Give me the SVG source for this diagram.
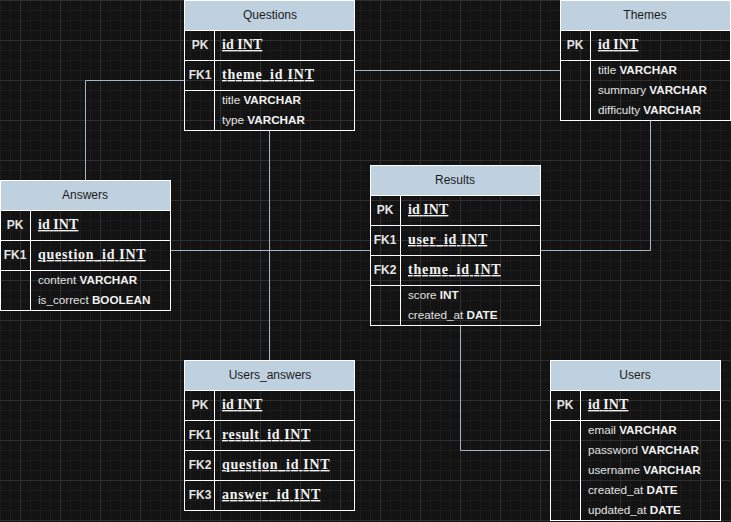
<svg xmlns="http://www.w3.org/2000/svg" width="731" height="522" viewBox="0 0 731 522">
<style>
.box{fill:none;stroke:#ffffff;stroke-width:1}
.hdr{fill:#bfd0de;stroke:#ffffff;stroke-width:1}
.sep{stroke:#ffffff;stroke-width:1;fill:none}
.conn{stroke:#a3b7ca;stroke-width:1;fill:none}
.title{font-family:"Liberation Sans",Arial,sans-serif;font-size:12px;fill:#1c1c1c;text-anchor:middle}
.key{font-family:"Liberation Sans",Arial,sans-serif;font-size:12px;font-weight:bold;fill:#e4e4e4;text-anchor:middle}
.fld{font-family:"Liberation Serif","Times New Roman",serif;font-size:14px;font-weight:bold;fill:#f2f2f2;text-decoration:underline}
.attr{font-family:"Liberation Sans",Arial,sans-serif;font-size:11.7px;fill:#e2e2e2}
.attr tspan{font-weight:bold;fill:#f2f2f2}
</style>
<defs>
<pattern id="grid" patternUnits="userSpaceOnUse" x="20" y="0" width="40" height="40">
<rect width="40" height="40" fill="#131313"/>
<rect x="10" y="0" width="1" height="40" fill="#1c1c1c"/>
<rect x="20" y="0" width="1" height="40" fill="#1c1c1c"/>
<rect x="30" y="0" width="1" height="40" fill="#1c1c1c"/>
<rect x="0" y="10" width="40" height="1" fill="#1c1c1c"/>
<rect x="0" y="20" width="40" height="1" fill="#1c1c1c"/>
<rect x="0" y="30" width="40" height="1" fill="#1c1c1c"/>
<rect x="0" y="0" width="1" height="40" fill="#2e2e2e"/>
<rect x="0" y="0" width="40" height="1" fill="#2e2e2e"/>
</pattern>
</defs>
<rect x="0" y="0" width="731" height="522" fill="url(#grid)"/>

<g id="connectors">
<path class="conn" d="M354.5 70.5 H560.5"/>
<path class="conn" d="M85.5 180.5 V80.5 H184.5"/>
<path class="conn" d="M269.5 130.5 V360.5"/>
<path class="conn" d="M170.5 250.5 H370.5"/>
<path class="conn" d="M540.5 250.5 H650.5 V120.5"/>
<path class="conn" d="M460.5 325.5 V450.5 H550.5"/>
</g>

<g id="questions">
<rect class="hdr" x="184.5" y="0.5" width="170" height="30"/>
<rect class="box" x="184.5" y="0.5" width="170" height="130"/>
<path class="sep" d="M184.5 60.5 H354.5 M184.5 90.5 H354.5 M214.5 30.5 V130.5"/>
<text class="title" x="270" y="19">Questions</text>
<text class="key" x="200" y="49">PK</text>
<text class="fld" x="222" y="49" textLength="40.4" lengthAdjust="spacing">id INT</text>
<text class="key" x="200" y="79">FK1</text>
<text class="fld" x="222" y="79" textLength="92" lengthAdjust="spacing">theme_id INT</text>
<text class="attr" x="222" y="104">title <tspan>VARCHAR</tspan></text>
<text class="attr" x="222" y="124">type <tspan>VARCHAR</tspan></text>
</g>

<g id="themes">
<rect class="hdr" x="560.5" y="0.5" width="170" height="30"/>
<rect class="box" x="560.5" y="0.5" width="170" height="120"/>
<path class="sep" d="M560.5 60.5 H730.5 M590.5 30.5 V120.5"/>
<text class="title" x="645" y="19">Themes</text>
<text class="key" x="575" y="49">PK</text>
<text class="fld" x="598" y="49" textLength="40.4" lengthAdjust="spacing">id INT</text>
<text class="attr" x="598" y="74">title <tspan>VARCHAR</tspan></text>
<text class="attr" x="598" y="94">summary <tspan>VARCHAR</tspan></text>
<text class="attr" x="598" y="114">difficulty <tspan>VARCHAR</tspan></text>
</g>

<g id="answers">
<rect class="hdr" x="0.5" y="180.5" width="170" height="30"/>
<rect class="box" x="0.5" y="180.5" width="170" height="130"/>
<path class="sep" d="M0.5 240.5 H170.5 M0.5 270.5 H170.5 M30.5 210.5 V310.5"/>
<text class="title" x="85" y="199">Answers</text>
<text class="key" x="15" y="229">PK</text>
<text class="fld" x="38" y="229" textLength="40.4" lengthAdjust="spacing">id INT</text>
<text class="key" x="15" y="259">FK1</text>
<text class="fld" x="38" y="259" textLength="107.7" lengthAdjust="spacing">question_id INT</text>
<text class="attr" x="38" y="284">content <tspan>VARCHAR</tspan></text>
<text class="attr" x="38" y="304">is_correct <tspan>BOOLEAN</tspan></text>
</g>

<g id="results">
<rect class="hdr" x="370.5" y="165.5" width="170" height="30"/>
<rect class="box" x="370.5" y="165.5" width="170" height="160"/>
<path class="sep" d="M370.5 225.5 H540.5 M370.5 255.5 H540.5 M370.5 285.5 H540.5 M400.5 195.5 V325.5"/>
<text class="title" x="455" y="184">Results</text>
<text class="key" x="385" y="214">PK</text>
<text class="fld" x="408" y="214" textLength="40.4" lengthAdjust="spacing">id INT</text>
<text class="key" x="385" y="244">FK1</text>
<text class="fld" x="408" y="244" textLength="79.3" lengthAdjust="spacing">user_id INT</text>
<text class="key" x="385" y="274">FK2</text>
<text class="fld" x="408" y="274" textLength="92.7" lengthAdjust="spacing">theme_id INT</text>
<text class="attr" x="408" y="299">score <tspan>INT</tspan></text>
<text class="attr" x="408" y="319">created_at <tspan>DATE</tspan></text>
</g>

<g id="users_answers">
<rect class="hdr" x="184.5" y="360.5" width="170" height="30"/>
<rect class="box" x="184.5" y="360.5" width="170" height="150"/>
<path class="sep" d="M184.5 420.5 H354.5 M184.5 450.5 H354.5 M184.5 480.5 H354.5 M214.5 390.5 V510.5"/>
<text class="title" x="270" y="379">Users_answers</text>
<text class="key" x="200" y="409">PK</text>
<text class="fld" x="222" y="409" textLength="40.4" lengthAdjust="spacing">id INT</text>
<text class="key" x="200" y="439">FK1</text>
<text class="fld" x="222" y="439" textLength="88.3" lengthAdjust="spacing">result_id INT</text>
<text class="key" x="200" y="469">FK2</text>
<text class="fld" x="222" y="469" textLength="107.7" lengthAdjust="spacing">question_id INT</text>
<text class="key" x="200" y="499">FK3</text>
<text class="fld" x="222" y="499" textLength="98.3" lengthAdjust="spacing">answer_id INT</text>
</g>

<g id="users">
<rect class="hdr" x="550.5" y="360.5" width="170" height="30"/>
<rect class="box" x="550.5" y="360.5" width="170" height="160"/>
<path class="sep" d="M550.5 420.5 H720.5 M580.5 390.5 V520.5"/>
<text class="title" x="635" y="379">Users</text>
<text class="key" x="565" y="409">PK</text>
<text class="fld" x="588" y="409" textLength="40.4" lengthAdjust="spacing">id INT</text>
<text class="attr" x="588" y="434">email <tspan>VARCHAR</tspan></text>
<text class="attr" x="588" y="454">password <tspan>VARCHAR</tspan></text>
<text class="attr" x="588" y="474">username <tspan>VARCHAR</tspan></text>
<text class="attr" x="588" y="494">created_at <tspan>DATE</tspan></text>
<text class="attr" x="588" y="514">updated_at <tspan>DATE</tspan></text>
</g>
</svg>
